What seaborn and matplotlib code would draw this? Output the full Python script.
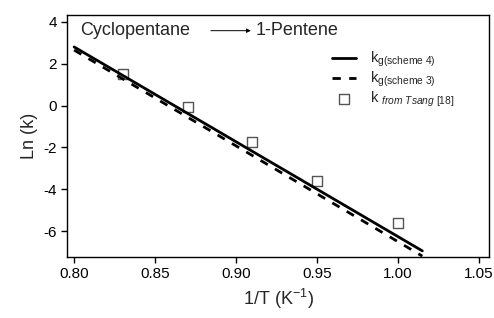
"""Cyclopentane -> 1-Pentene rate constant: Arrhenius plot."""

import matplotlib

matplotlib.use("Agg")
import matplotlib.pyplot as plt
import numpy as np
import pandas as pd
import seaborn as sns

# model lines (endpoints)
inv_t_line = [0.80, 1.015]
lnk_scheme4 = [2.8, -6.95]
lnk_scheme3 = [2.65, -7.2]

# Tsang [18] points
inv_t_tsang = [0.83, 0.87, 0.91, 0.95, 1.00]
lnk_tsang = [1.5, -0.05, -1.75, -3.6, -5.6]

x_ticks = [0.80, 0.85, 0.90, 0.95, 1.00, 1.05]
y_ticks = [-6, -4, -2, 0, 2, 4]

sns.set_theme(style="ticks")
plt.rcParams["font.family"] = ["Liberation Sans", "DejaVu Sans"]
plt.rcParams["mathtext.fontset"] = "custom"
plt.rcParams["mathtext.rm"] = "Liberation Sans"
plt.rcParams["mathtext.it"] = "Liberation Sans:italic"
plt.rcParams["axes.unicode_minus"] = False

lines = pd.DataFrame({"x": inv_t_line, "s4": lnk_scheme4, "s3": lnk_scheme3})
pts = pd.DataFrame({"x": inv_t_tsang, "y": lnk_tsang})

fig, ax = plt.subplots(figsize=(4.94, 3.18), dpi=100)
fig.subplots_adjust(left=0.136, right=0.99, top=0.953, bottom=0.192)

sns.lineplot(data=lines, x="x", y="s4", ax=ax, color="black", lw=2.0,
             label=r"k$_{\mathrm{g(scheme\ 4)}}$")
sns.lineplot(data=lines, x="x", y="s3", ax=ax, color="black", lw=2.0,
             linestyle=(0, (3, 3)), label=r"k$_{\mathrm{g(scheme\ 3)}}$")
sns.scatterplot(data=pts, x="x", y="y", ax=ax, marker="s", s=60,
                facecolor="white", edgecolor="#555555", linewidth=1.0,
                label=r"k $_{\it{from\ Tsang\ [18]}}$")

ax.set_xlim(0.7957, 1.0562)
ax.set_ylim(-7.24, 4.33)
ax.set_xticks(x_ticks)
ax.set_xticklabels([f"{v:.2f}" for v in x_ticks])
ax.set_yticks(y_ticks)
ax.tick_params(direction="out", length=4, width=1, labelsize=11, colors="black")
for sp in ax.spines.values():
    sp.set_linewidth(1.0)
    sp.set_color("black")

ax.set_xlabel(r"1/T (K$^{\mathrm{-1}}$)", fontsize=13)
ax.set_ylabel("Ln (k)", fontsize=13)

ax.text(0.03, 0.935, "Cyclopentane", transform=ax.transAxes, fontsize=13,
        va="center", ha="left")
ax.annotate("", xy=(0.442, 0.935), xytext=(0.334, 0.935),
            xycoords="axes fraction",
            arrowprops=dict(arrowstyle="-|>", lw=0.7, color="black",
                            mutation_scale=6))
ax.text(0.446, 0.935, "1-Pentene", transform=ax.transAxes, fontsize=13,
        va="center", ha="left")

ax.legend(loc="upper right", bbox_to_anchor=(0.95, 0.91), frameon=False,
          fontsize=10.5, handlelength=1.6, handletextpad=1.0, labelspacing=0.05)

plt.savefig("out.png", dpi=100)
plt.close()
